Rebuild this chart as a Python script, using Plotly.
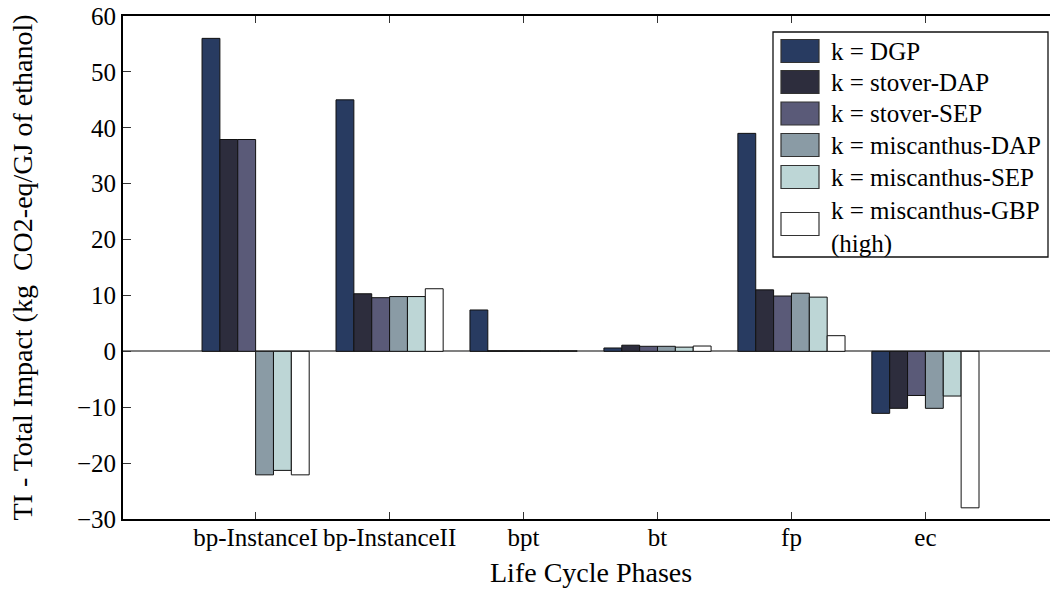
import plotly.graph_objects as go

# Life cycle phases on the x axis
phases = ["bp-InstanceI", "bp-InstanceII", "bpt", "bt", "fp", "ec"]

# Total impact (kg CO2-eq / GJ of ethanol) per pathway k
k_dgp = [56.0, 45.0, 7.4, 0.6, 39.0, -11.1]
k_stover_dap = [37.9, 10.3, 0.1, 1.1, 11.0, -10.2]
k_stover_sep = [37.9, 9.6, 0.1, 0.9, 9.9, -7.9]
k_misc_dap = [-22.1, 9.8, 0.1, 0.9, 10.4, -10.2]
k_misc_sep = [-21.3, 9.8, 0.1, 0.75, 9.7, -8.0]
k_misc_gbp = [-22.1, 11.2, 0.1, 0.95, 2.8, -28.0]

series_names = [
    "k = DGP",
    "k = stover-DAP",
    "k = stover-SEP",
    "k = miscanthus-DAP",
    "k = miscanthus-SEP",
    "k = miscanthus-GBP<br>(high)",
]
series_values = [k_dgp, k_stover_dap, k_stover_sep, k_misc_dap, k_misc_sep, k_misc_gbp]
series_colors = ["#283b61", "#2d2d3d", "#5a5a78", "#8a9ba5", "#bdd6d6", "#ffffff"]

FONT = "Liberation Serif"

# page / plot-area geometry in pixels
W, H = 1050, 592
L, R, T, B = 123, 0, 16, 73
PW, PH = W - L - R, H - T - B


def px(x):
    return (x - L) / PW


def py(y):
    return (H - B - y) / PH


fig = go.Figure()
for name, vals, col in zip(series_names, series_values, series_colors):
    fig.add_trace(go.Bar(
        x=phases, y=vals, name=name,
        marker=dict(color=col, line=dict(color="#111111", width=1)),
        showlegend=False,
    ))

# boxed legend with large swatches
shapes = [dict(type="rect", xref="paper", yref="paper",
               x0=px(773), x1=px(1048), y0=py(257), y1=py(32),
               line=dict(color="#111111", width=1.3), fillcolor="white", layer="above")]
annotations = []
row_centers = [51, 82, 113.5, 145, 177, 224]
for i, (name, col) in enumerate(zip(series_names, series_colors)):
    yc = row_centers[i]
    shapes.append(dict(type="rect", xref="paper", yref="paper",
                       x0=px(781), x1=px(819), y0=py(yc + 11.5), y1=py(yc - 11.5),
                       line=dict(color="#333333", width=1.2), fillcolor=col, layer="above"))
    annotations.append(dict(xref="paper", yref="paper", x=px(829), y=py(yc + (3 if i == 5 else 0)),
                            text=name, showarrow=False, xanchor="left", yanchor="middle",
                            align="left", font=dict(family=FONT, size=25, color="black")))

# x-axis title, centred on the full phase span
annotations.append(dict(xref="paper", yref="paper", x=px(591), y=py(572),
                        text="Life Cycle Phases", showarrow=False,
                        xanchor="center", yanchor="middle",
                        font=dict(family=FONT, size=28, color="black")))

fig.update_layout(
    width=W, height=H,
    margin=dict(l=L, r=R, t=T, b=B),
    paper_bgcolor="white", plot_bgcolor="white",
    barmode="group", bargap=0.2, bargroupgap=0,
    font=dict(family=FONT, size=25, color="black"),
    shapes=shapes, annotations=annotations,
)
fig.update_xaxes(
    range=[-0.99, 5.93],
    showline=True, linecolor="black", linewidth=2, mirror="ticks",
    ticks="inside", ticklen=7, tickcolor="#333333", tickwidth=1,
    tickfont=dict(family=FONT, size=25), ticklabelstandoff=-5,
    showgrid=False,
)
fig.update_yaxes(
    range=[-30, 60], dtick=10,
    showline=True, linecolor="black", linewidth=2,
    ticks="inside", ticklen=8, tickcolor="#333333", tickwidth=1,
    tickfont=dict(family=FONT, size=25),
    showgrid=False,
    zeroline=True, zerolinecolor="#808080", zerolinewidth=1.5,
    title=dict(text="TI - Total Impact (kg\u00a0 CO2-eq/GJ of ethanol)",
               font=dict(family=FONT, size=28), standoff=36),
)

fig.write_html("out.html")
